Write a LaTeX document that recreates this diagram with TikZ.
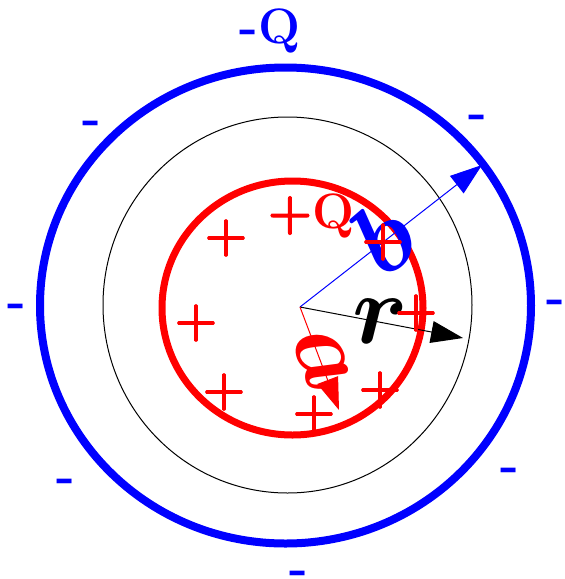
\documentclass[tikz,border=0pt]{standalone}
\usepackage{amsmath,amssymb}
\usepackage{graphicx}
\usepackage{fontspec}
\usetikzlibrary{arrows.meta,shapes.geometric}
\newfontfamily\plusfont{lmroman10-bold.otf}[FakeBold=2]
\newcommand{\biglet}[1]{\scalebox{2}{$\boldsymbol{#1}$}}

\begin{document}
\begin{tikzpicture}[
  x=0.5pt, y=-0.5pt,
  shell/.style={draw, ellipse, inner sep=0pt},
  posq/.style={text=red, font=\fontsize{24.88}{30}\selectfont\bfseries, inner sep=0pt},
  negq/.style={posq, text=blue},
  plus/.style={posq, font=\fontsize{24}{30}\plusfont},
  letter/.style={font=\fontsize{24.88}{30}\selectfont, inner sep=0pt},
  vec/.style={-{Triangle[length=16pt, width=11pt]}, line width=0.5pt}
]
\useasboundingbox (0,0) rectangle (564,579);

\node[shell, blue, line width=4pt, minimum width=245.5pt, minimum height=238pt] (outer) at (285.5,305.5) {};
\node[shell, line width=0.5pt, minimum width=184.5pt, minimum height=188pt] (gauss) at (287.5,305) {};
\node[shell, red, line width=3.5pt, minimum width=130.5pt, minimum height=127pt] (inner) at (292.5,308) {};

\node[negq, anchor=base] (qout) at (270,43) {-Q};
\node[negq] (m1) at (92,128) {-};
\node[negq] (m2) at (478,122) {-};
\node[negq] (m3) at (17,311) {-};
\node[negq] (m4) at (556,307) {-};
\node[negq] (m5) at (66,486) {-};
\node[negq] (m6) at (510,475) {-};
\node[negq] (m7) at (299,578) {-};

\coordinate (o) at (300,307);
\coordinate (bend) at (482,165);
\coordinate (rend) at (463,338);
\coordinate (aend) at (339,410);

\draw[vec, blue] (o) -- (bend);
\draw[vec] (o) -- (rend);
\draw[vec, red] (o) -- (aend);

\node[letter, blue, rotate=38] (blab) at (383,237) {\biglet{b}};
\node[letter, red, rotate=-69] (alab) at (322,360) {\biglet{a}};
\node[letter] (rlab) at (380,321) {\biglet{r}};

\node[posq, anchor=base] (qin) at (311,228) {{\plusfont +}Q};
\node[plus] (p1) at (226,238) {+};
\node[plus] (p2) at (196,323) {+};
\node[plus] (p3) at (224,392) {+};
\node[plus] (p4) at (314,414) {+};
\node[plus] (p5) at (380,390) {+};
\node[plus] (p6) at (416,313) {+};
\node[plus] (p7) at (383,242) {+};
\end{tikzpicture}
\end{document}
